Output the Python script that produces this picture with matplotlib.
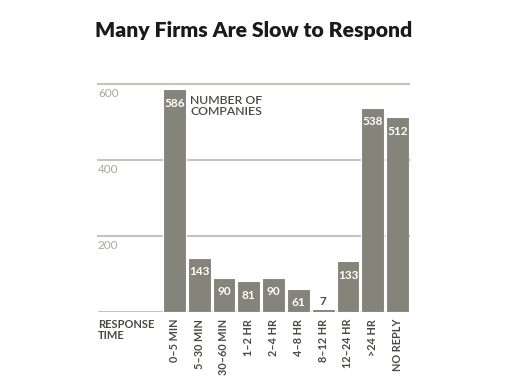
import matplotlib
matplotlib.use("Agg")
import matplotlib.pyplot as plt

# ---------------------------------------------------------------------------
# Data
# ---------------------------------------------------------------------------
categories = ["0–5 MIN", "5–30 MIN", "30–60 MIN", "1–2 HR", "2–4 HR",
              "4–8 HR", "8–12 HR", "12–24 HR", ">24 HR", "NO REPLY"]
companies = [586, 143, 90, 81, 90, 61, 7, 133, 538, 512]
y_ticks = [200, 400, 600]

C_BAR = "#85847a"
C_GRID = "#c4c3bd"
C_TICK = "#a9a8a2"
C_TEXT = "#4a4a45"

plt.rcParams["font.family"] = ["Lato", "DejaVu Sans"]

fig = plt.figure(figsize=(5.12, 3.79), dpi=100)
ax = fig.add_axes([98 / 512, 67 / 379, 311 / 512, 228 / 379])

x = list(range(len(categories)))
for yt in y_ticks:
    ax.axhline(yt, color=C_GRID, linewidth=1.5, zorder=1, clip_on=False)
    ax.annotate(str(yt), (0, yt), xycoords=("axes fraction", "data"),
                xytext=(0, -3), textcoords="offset points",
                ha="left", va="top", fontsize=8.5, color=C_TICK)
ax.axhline(0, color=C_GRID, linewidth=1.5, zorder=1)

ax.bar(x, companies, width=0.92, color=C_BAR, edgecolor="white",
       linewidth=0.8, zorder=3)

for xi, v in zip(x, companies):
    if v > 40:
        ax.annotate(str(v), (xi, v), xytext=(0, -10),
                    textcoords="offset points", ha="center", va="center",
                    fontsize=8.5, fontweight="bold", color="white", zorder=4)
    else:
        ax.annotate(str(v), (xi, v), xytext=(0, 6),
                    textcoords="offset points", ha="center", va="center",
                    fontsize=8.5, fontweight="bold", color=C_TEXT, zorder=4)

ax.text(0.63, 541, "NUMBER OF\nCOMPANIES", ha="left", va="center",
        fontsize=8.8, color=C_TEXT, fontweight="semibold", linespacing=1.0)

ax.set_xlim(-3.08, 9.46)
ax.set_ylim(0, 600)
ax.set_xticks(x)
ax.set_xticklabels(categories, rotation=90, fontsize=7.8, color=C_TEXT,
                   fontweight="bold", va="top", ha="center")
ax.tick_params(axis="x", length=0, pad=5)
ax.set_yticks([])
for s in ax.spines.values():
    s.set_visible(False)

ax.annotate("RESPONSE\nTIME", (0, 0), xycoords="axes fraction",
            xytext=(0, -5), textcoords="offset points", ha="left", va="top",
            fontsize=8, fontweight="bold", color=C_TEXT, linespacing=1.0)

fig.text(0.495, 0.92, "Many Firms Are Slow to Respond", ha="center",
         va="center", fontsize=15.2, fontweight="heavy", color="#1a1a1a")

fig.savefig("out.png", dpi=100)
